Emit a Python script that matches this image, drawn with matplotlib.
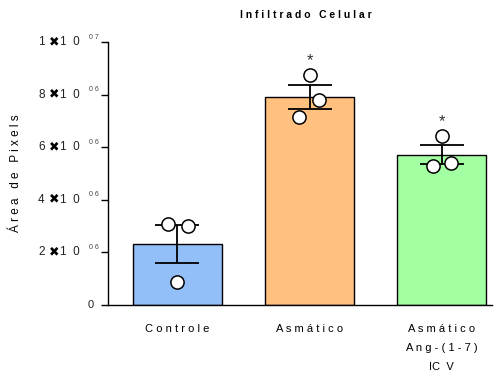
import numpy as np
import matplotlib
matplotlib.use("Agg")
import matplotlib.pyplot as plt

plt.rcParams['font.family'] = ['Liberation Sans', 'DejaVu Sans']

# group names (drawn letter-spaced) and individual animal values
groups = ["C o n t r o l e", "A s m á t i c o",
          "A s m á t i c o\nA n g - ( 1 - 7 )\nIC  V"]
controle = [3.08e6, 3.00e6, 0.87e6]
asmatico = [8.75e6, 7.80e6, 7.15e6]
asmatico_ang = [6.43e6, 5.29e6, 5.40e6]
# horizontal jitter of the dots inside each bar (category units)
jitter = [[-0.07, 0.08, 0.0], [0.0, 0.07, -0.08], [0.0, -0.07, 0.07]]
significant = [False, True, True]

colors = ["#92bff7", "#ffc080", "#a2ffa2"]
ytick_vals = [0, 2e6, 4e6, 6e6, 8e6, 1e7]

data = [controle, asmatico, asmatico_ang]
means = [np.mean(d) for d in data]
sems = [np.std(d, ddof=1) / np.sqrt(len(d)) for d in data]
x = np.arange(len(groups))

fig = plt.figure(figsize=(4.97, 3.78), dpi=100)
ax = fig.add_axes([108 / 497, 73 / 378, (492 - 108) / 497, (305 - 42) / 378])

ax.bar(x, means, width=0.67, color=colors, edgecolor="black", linewidth=1.0, zorder=1)
ax.errorbar(x, means, yerr=sems, fmt="none", ecolor="black", elinewidth=1.3,
            capsize=16, capthick=1.3, zorder=2)
for i, d in enumerate(data):
    ax.plot(x[i] + np.array(jitter[i]), d, "o", ms=9.5, mfc="white", mec="black",
            mew=1.1, zorder=3, clip_on=False)
    if significant[i]:
        top = max(d)
        ax.annotate("*", (x[i], top), xytext=(0, 5), textcoords="offset points",
                    ha="center", va="bottom", fontsize=12, color="#333333")

ax.set_xlim(-0.525, 2.38)
ax.set_ylim(0, 1e7)
ax.spines["top"].set_visible(False)
ax.spines["right"].set_visible(False)
ax.spines["left"].set_linewidth(1.0)
ax.spines["bottom"].set_linewidth(1.0)

ax.set_xticks(x)
ax.set_xticklabels(groups, fontsize=8, linespacing=2.1, va="top")
ax.tick_params(axis="x", length=0, pad=14)

ax.set_yticks(ytick_vals)
ax.set_yticklabels([])
ax.tick_params(axis="y", length=5, width=1.0, direction="out")


def tick_text(s, v, dx, dy, size, ha="right", color="#222222"):
    ax.annotate(s, (0, v), xycoords=("axes fraction", "data"),
                xytext=(dx, dy), textcoords="offset points",
                ha=ha, va="center", fontsize=size, color=color)


# GraphPad-style scientific tick labels: mantissa, heavy cross, "10", exponent
for v in ytick_vals:
    if v == 0:
        tick_text("0", v, -10, 0, 8)
        continue
    exp = int(np.floor(np.log10(v)))
    mant = int(round(v / 10 ** exp))
    tick_text("1  0", v, -20.5, 0, 8.5)
    tick_text("\u2716", v, -39, 0, 9, ha="center", color="black")
    tick_text(str(mant), v, -45.5, 0, 8.5)
    tick_text(f"0 {exp}", v, -13.5, 3.5, 5, ha="left", color="#444444")

ax.set_ylabel("Á r e a   d e   P i x e l s", fontsize=8.5)
ax.yaxis.set_label_coords(-0.225, 0.5)
fig.text(306 / 497, 1 - 15 / 378, "I n f i l t r a d o   C e l u l a r", ha="center",
         va="center", fontsize=7.5, fontweight="bold")

fig.savefig("out.png", dpi=100)
